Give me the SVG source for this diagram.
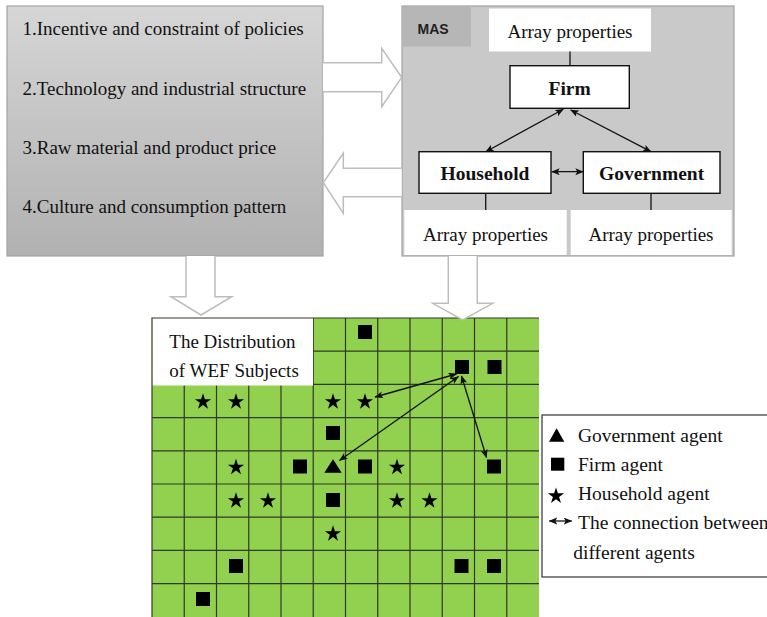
<svg xmlns="http://www.w3.org/2000/svg" width="767" height="617" viewBox="0 0 767 617">
<defs>
<style>
.t{font-family:"Liberation Serif","Times New Roman",serif;font-size:19px;fill:#111}
.b{font-family:"Liberation Serif","Times New Roman",serif;font-size:19.5px;font-weight:bold;fill:#111}
.lg{font-family:"Liberation Serif","Times New Roman",serif;font-size:19.5px;fill:#111}
.hollow{fill:#fff;stroke:#bdbdbd;stroke-width:1.5}
.node{fill:#fff;stroke:#111;stroke-width:1.4}
.wbox{fill:#fff}
.ln{stroke:#111;stroke-width:1.3;fill:none}
.dbl{stroke:#111;stroke-width:1.3;fill:none;marker-start:url(#ah);marker-end:url(#ah)}
.gl{stroke:#2e3b22;stroke-width:1.2}
.sym{fill:#000}
</style>
<linearGradient id="gbox" x1="0" y1="0" x2="0" y2="1">
<stop offset="0" stop-color="#d6d6d6"/>
<stop offset="1" stop-color="#b1b1b1"/>
</linearGradient>
<marker id="ah" markerUnits="userSpaceOnUse" markerWidth="10" markerHeight="8" refX="8" refY="3.5" orient="auto-start-reverse">
<path d="M0,0 L8.5,3.5 L0,7 L2,3.5 z" fill="#111"/>
</marker>
<path id="star" d="M0,-8.5 L1.91,-2.63 L8.08,-2.63 L3.09,1 L5,6.88 L0,3.25 L-5,6.88 L-3.09,1 L-8.08,-2.63 L-1.91,-2.63 Z"/>
<rect id="sq" x="-7" y="-7" width="14" height="14"/>
</defs>

<g id="factors">
<rect x="7" y="6" width="316" height="250" fill="url(#gbox)" stroke="#a3a3a3" stroke-width="1.2"/>
<text class="t" x="22.5" y="35">1.Incentive and constraint of policies</text>
<text class="t" x="22.5" y="95">2.Technology and industrial structure</text>
<text class="t" x="22.5" y="154">3.Raw material and product price</text>
<text class="t" x="22.5" y="212.5">4.Culture and consumption pattern</text>
</g>

<g id="mas">
<rect x="402" y="6" width="332" height="250" fill="#c9c9c9" stroke="#a3a3a3" stroke-width="1.2"/>
<rect x="402.6" y="6.6" width="68.4" height="40" fill="#b6b6b6"/>
<text x="417.5" y="34" style="font-family:'Liberation Sans',Arial,sans-serif;font-size:14px;font-weight:bold;fill:#222">MAS</text>
</g>

<g id="firm-props">
<rect class="wbox" x="489" y="8.5" width="162" height="43"/>
<text class="t" x="570" y="38.3" text-anchor="middle">Array properties</text>
</g>
<g id="firm">
<rect class="node" x="510" y="65.7" width="119.3" height="42.6"/>
<text class="b" x="569.6" y="95" text-anchor="middle">Firm</text>
</g>
<g id="household">
<rect class="node" x="419" y="151.7" width="132" height="41.6"/>
<text class="b" x="485" y="180" text-anchor="middle">Household</text>
</g>
<g id="government">
<rect class="node" x="583.3" y="151.7" width="136.7" height="41.6"/>
<text class="b" x="651.6" y="180" text-anchor="middle">Government</text>
</g>
<g id="household-props">
<rect class="wbox" x="404.3" y="210" width="162.4" height="45"/>
<text class="t" x="485.5" y="240.7" text-anchor="middle">Array properties</text>
</g>
<g id="government-props">
<rect class="wbox" x="570.7" y="210" width="161" height="45"/>
<text class="t" x="651" y="240.7" text-anchor="middle">Array properties</text>
</g>

<g id="grid">
<rect x="152" y="318" width="387" height="300" fill="#92d050"/>
<g class="gl">
<line x1="184.25" y1="318" x2="184.25" y2="617"/>
<line x1="216.5" y1="318" x2="216.5" y2="617"/>
<line x1="248.75" y1="318" x2="248.75" y2="617"/>
<line x1="281" y1="318" x2="281" y2="617"/>
<line x1="313.25" y1="318" x2="313.25" y2="617"/>
<line x1="345.5" y1="318" x2="345.5" y2="617"/>
<line x1="377.75" y1="318" x2="377.75" y2="617"/>
<line x1="410" y1="318" x2="410" y2="617"/>
<line x1="442.25" y1="318" x2="442.25" y2="617"/>
<line x1="474.5" y1="318" x2="474.5" y2="617"/>
<line x1="506.75" y1="318" x2="506.75" y2="617"/>
<line x1="152" y1="351.2" x2="539" y2="351.2"/>
<line x1="152" y1="384.4" x2="539" y2="384.4"/>
<line x1="152" y1="417.6" x2="539" y2="417.6"/>
<line x1="152" y1="450.8" x2="539" y2="450.8"/>
<line x1="152" y1="484" x2="539" y2="484"/>
<line x1="152" y1="517.2" x2="539" y2="517.2"/>
<line x1="152" y1="550.4" x2="539" y2="550.4"/>
<line x1="152" y1="583.6" x2="539" y2="583.6"/>
</g>
<rect x="152" y="318" width="161" height="67.5" fill="#fff"/>
<path d="M152,617 V318 H539" fill="none" stroke="#2e3b22" stroke-width="1.2"/>
<text class="t" x="169.3" y="347.5">The Distribution</text>
<text class="t" x="169.3" y="376.5">of WEF Subjects</text>
<g class="sym">
<use href="#sq" x="365" y="332"/>
<use href="#sq" x="462" y="367"/>
<use href="#sq" x="494.5" y="367"/>
<use href="#sq" x="333" y="433"/>
<use href="#sq" x="300" y="466.5"/>
<use href="#sq" x="365" y="466.5"/>
<use href="#sq" x="494" y="466.5"/>
<use href="#sq" x="333" y="500"/>
<use href="#sq" x="236" y="566"/>
<use href="#sq" x="461.5" y="566"/>
<use href="#sq" x="494" y="566"/>
<use href="#sq" x="203" y="599"/>
<use href="#star" x="203" y="401.8"/>
<use href="#star" x="236" y="401.8"/>
<use href="#star" x="333" y="401.8"/>
<use href="#star" x="365" y="401.8"/>
<use href="#star" x="236" y="467.3"/>
<use href="#star" x="397" y="467.3"/>
<use href="#star" x="236" y="500.8"/>
<use href="#star" x="268" y="500.8"/>
<use href="#star" x="397" y="500.8"/>
<use href="#star" x="429.5" y="500.8"/>
<use href="#star" x="333" y="533.8"/>
<path d="M333,459.3 L341.7,472.7 L324.3,472.7 Z"/>
</g>
</g>

<g id="legend">
<rect x="542" y="415" width="240" height="162" fill="#fff" stroke="#333" stroke-width="1.2"/>
<path d="M556.6,428.3 L564.3,441.7 L549,441.7 Z" fill="#000"/>
<rect x="551" y="457.7" width="13.3" height="13" fill="#000"/>
<use href="#star" x="556" y="496" fill="#000"/>
<text class="lg" x="578" y="441.7">Government agent</text>
<text class="lg" x="578" y="470.7">Firm agent</text>
<text class="lg" x="578" y="500">Household agent</text>
<text class="lg" x="578" y="529.3">The connection between</text>
<text class="lg" x="573.3" y="559">different agents</text>
</g>

<g id="connectors">
<path class="hollow" d="M323,62.7 H381.7 V48.3 L401.7,77.3 L381.7,106.7 V91.7 H323"/>
<path class="hollow" d="M401.7,168.3 H343.3 V153.3 L323.3,182.7 L343.3,213.3 V196.7 H401.7"/>
<path class="hollow" d="M186,256 V296.7 H171 L201,315 L231.7,296.7 H215 V256"/>
<path class="hollow" d="M448.3,256 V303.3 H432.7 L462.7,320 L492.7,303.3 H477.3 V256"/>
<line class="ln" x1="570" y1="51.5" x2="570" y2="65.7"/>
<line class="ln" x1="485.7" y1="193.3" x2="485.7" y2="210"/>
<line class="ln" x1="651" y1="193.3" x2="651" y2="210"/>
<line class="dbl" x1="563.3" y1="109.3" x2="485.7" y2="151.7"/>
<line class="dbl" x1="570.7" y1="110" x2="651" y2="151.7"/>
<line class="dbl" x1="551.7" y1="171.7" x2="583.3" y2="171.7"/>
<line class="dbl" x1="456.5" y1="374" x2="375" y2="397"/>
<line class="dbl" x1="458.5" y1="376.5" x2="339.5" y2="460.5"/>
<line class="dbl" x1="461.5" y1="376" x2="486.5" y2="457.5"/>
<line class="dbl" x1="549.3" y1="521" x2="571.7" y2="521"/>
</g>
</svg>
